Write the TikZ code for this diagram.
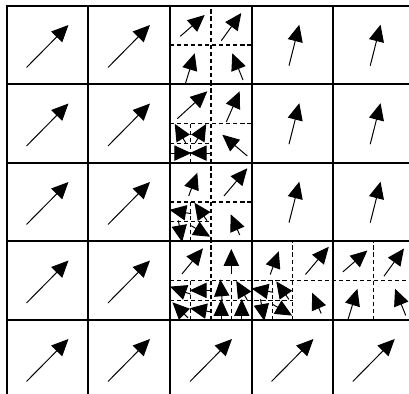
\documentclass[tikz,border=0pt]{standalone}
\usetikzlibrary{arrows.meta}
\begin{document}
\begin{tikzpicture}[x=0.025cm,y=0.025cm,
  vec/.style={line width=0.7pt,-{Triangle[length=0.42cm,width=0.38cm]}},
  cellline/.style={line width=1pt},
  subline/.style={line width=0.8pt,dash pattern=on 3pt off 2pt}]
\useasboundingbox (0,0) rectangle (409,394);
\clip (0,0) rectangle (409,394);
% coarse grid
\draw[cellline] (7,-10) -- (7,388) -- (420,388);
\draw[cellline] (88,-10) -- (88,388);
\draw[cellline] (170,-10) -- (170,388);
\draw[cellline] (252,-10) -- (252,388);
\draw[cellline] (333,-10) -- (333,388);
\draw[cellline] (7,310) -- (420,310);
\draw[cellline] (7,231) -- (420,231);
\draw[cellline] (7,153) -- (420,153);
\draw[cellline] (7,74) -- (420,74);
% refined cells
\draw[subline] (211,310) -- (211,388);
\draw[subline] (170,349) -- (252,349);
\draw[subline] (211,231) -- (211,310);
\draw[subline] (170,270.5) -- (252,270.5);
\draw[subline] (190.5,231) -- (190.5,270.5);
\draw[subline] (170,250.75) -- (211,250.75);
\draw[subline] (211,153) -- (211,231);
\draw[subline] (170,192) -- (252,192);
\draw[subline] (190.5,153) -- (190.5,192);
\draw[subline] (170,172.5) -- (211,172.5);
\draw[subline] (211,74) -- (211,153);
\draw[subline] (170,113.5) -- (420,113.5);
\draw[subline] (190.5,74) -- (190.5,113.5);
\draw[subline] (231.5,74) -- (231.5,113.5);
\draw[subline] (170,93.75) -- (292.5,93.75);
\draw[subline] (292.5,74) -- (292.5,153);
\draw[subline] (272.25,74) -- (272.25,113.5);
\draw[subline] (373.75,74) -- (373.75,153);
% coarse arrows
\draw[vec] (26.5,326.5) -- ++(42,42.5);
\draw[vec] (108,326.5) -- ++(42,42.5);
\draw[vec] (26.5,248) -- ++(42,42.5);
\draw[vec] (108,248) -- ++(42,42.5);
\draw[vec] (26.5,169.5) -- ++(42,42.5);
\draw[vec] (108,169.5) -- ++(42,42.5);
\draw[vec] (26.5,91) -- ++(42,42.5);
\draw[vec] (108,91) -- ++(42,42.5);
\draw[vec] (26.5,12.5) -- ++(42,42.5);
\draw[vec] (108,12.5) -- ++(42,42.5);
\draw[vec] (190,12.5) -- ++(42,42.5);
\draw[vec] (271.5,12.5) -- ++(42,42.5);
\draw[vec] (352.75,12.5) -- ++(42,42.5);
\draw[vec] (289,328.3) -- ++(10.3,41);
\draw[vec] (289,249.8) -- ++(10.3,41);
\draw[vec] (289,171.3) -- ++(10.3,41);
\draw[vec] (370.25,328.3) -- ++(10.3,41);
\draw[vec] (370.25,249.8) -- ++(10.3,41);
\draw[vec] (370.25,171.3) -- ++(10.3,41);
% level 1 arrows
\draw[vec] (180.3,357.7) -- ++(24.4,21.3);
\draw[vec] (221.3,353.3) -- ++(20,27.7);
\draw[vec] (185.3,310) -- ++(9.4,30.7);
\draw[vec] (243,314) -- ++(-10.7,26.7);
\draw[vec] (177.3,275.3) -- ++(30,27.4);
\draw[vec] (226.3,272) -- ++(13.4,30.7);
\draw[vec] (247.3,238) -- ++(-25,21.3);
\draw[vec] (188.7,198) -- ++(8.6,23.3);
\draw[vec] (224,198) -- ++(23.3,27.7);
\draw[vec] (239.7,159) -- ++(-9,20.7);
\draw[vec] (182,120) -- ++(21,25.7);
\draw[vec] (231.3,120) -- ++(0,25);
\draw[vec] (270.2,119.5) -- ++(8.6,23.3);
\draw[vec] (305.5,119.5) -- ++(23.3,27.7);
\draw[vec] (321.2,80.5) -- ++(-9,20.7);
\draw[vec] (343,122.2) -- ++(24.4,21.3);
\draw[vec] (384,117.8) -- ++(20,27.7);
\draw[vec] (348,74.5) -- ++(9.4,30.7);
\draw[vec] (405.75,78.5) -- ++(-10.7,26.7);
% level 2 arrows
\draw[vec] (180.25,260.6) ++(300:11) -- ++(120:22);
\draw[vec] (200.75,260.6) ++(240:11) -- ++(60:22);
\draw[vec] (180.25,240.9) ++(180:11) -- ++(0:22);
\draw[vec] (200.75,240.9) ++(0:11) -- ++(180:22);
\draw[vec] (180.25,182.25) ++(350:11) -- ++(170:22);
\draw[vec] (200.75,182.25) ++(305:11) -- ++(125:22);
\draw[vec] (180.25,162.75) ++(100:11) -- ++(280:22);
\draw[vec] (200.75,162.75) ++(150:11) -- ++(330:22);
\draw[vec] (180.25,103.6) ++(340:11) -- ++(160:22);
\draw[vec] (200.75,103.6) ++(0:11) -- ++(180:22);
\draw[vec] (180.25,83.9) ++(315:11) -- ++(135:22);
\draw[vec] (200.75,83.9) ++(350:11) -- ++(170:22);
\draw[vec] (221.25,103.6) ++(275:11) -- ++(95:22);
\draw[vec] (241.75,103.6) ++(300:11) -- ++(120:22);
\draw[vec] (221.25,83.9) ++(270:11) -- ++(90:22);
\draw[vec] (241.75,83.9) ++(270:11) -- ++(90:22);
\draw[vec] (262.4,103.6) ++(350:11) -- ++(170:22);
\draw[vec] (282.6,103.6) ++(305:11) -- ++(125:22);
\draw[vec] (262.4,83.9) ++(100:11) -- ++(280:22);
\draw[vec] (282.6,83.9) ++(150:11) -- ++(330:22);
\end{tikzpicture}
\end{document}
